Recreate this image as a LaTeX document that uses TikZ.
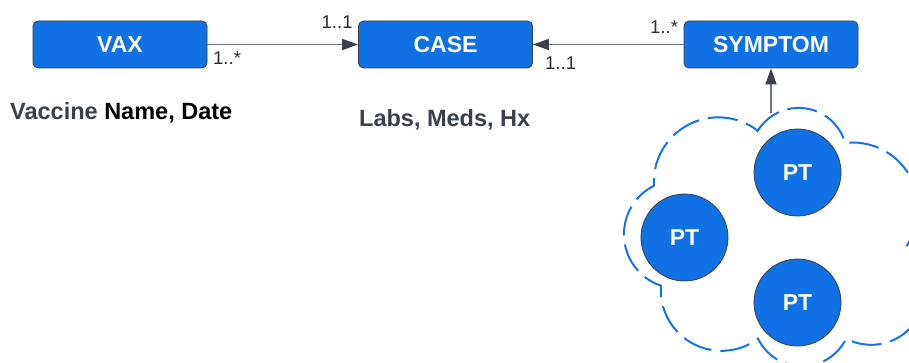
\documentclass[tikz,border=0pt]{standalone}
\usepackage{fontspec}
\setmainfont{Liberation Sans}
\usetikzlibrary{arrows.meta}
\definecolor{boxblue}{HTML}{1071E5}
\definecolor{edgegray}{HTML}{3A414A}
\definecolor{linegray}{HTML}{70767E}
\definecolor{multgray}{HTML}{282C33}
\definecolor{cloudblue}{HTML}{1473E6}

\begin{document}
\begin{tikzpicture}[x=1pt,y=1pt,
  my box/.style={
    draw=edgegray, line width=0.8pt, fill=boxblue, rounded corners=5pt,
    minimum width=174pt, minimum height=47pt, inner sep=0pt,
    text=white, font=\fontsize{23}{27}\selectfont\bfseries,
  },
  my pt/.style={
    circle, draw=edgegray, line width=0.8pt, fill=boxblue,
    minimum size=87pt, inner sep=0pt,
    text=white, font=\fontsize{23}{27}\selectfont\bfseries,
  },
  my arrow/.style={
    draw=linegray, line width=1.6pt,
    -{Triangle[length=16pt,width=11pt,color=edgegray]},
  },
  my mult/.style={anchor=west, inner sep=0pt, text=multgray, font=\fontsize{18.5}{22}\selectfont},
  my note/.style={anchor=base west, inner sep=0pt, text=edgegray, font=\fontsize{23.5}{27}\selectfont\bfseries},
  my cloud/.style={draw=cloudblue, line width=2pt, dash pattern=on 30pt off 9pt},
  ]
  \useasboundingbox (0,0) rectangle (909,362);
  \clip (0,0) rectangle (909,362);

  % entities
  \node[my box] (vax) at (120,317.5) {VAX};
  \node[my box] (case) at (445.5,317.5) {CASE};
  \node[my box] (symptom) at (771,317.5) {SYMPTOM};

  \draw[my arrow] (vax) -- (case);
  \draw[my arrow] (symptom) -- (case);
  \node[my mult] (vaxmany) at (213,303.7) {1..*};
  \node[my mult] (caseone) at (321.5,340.3) {1..1};
  \node[my mult] (symptommany) at (650,335.3) {1..*};
  \node[my mult] (caseonetoo) at (545,298.7) {1..1};

  \node[my note] (vaxnote) at (10,242) {Vaccine \textcolor{black}{Name, Date}};
  \node[my note] (casenote) at (359,235.5) {Labs, Meds, Hx};

  % patient cloud
  \draw[my cloud] (757,230)
    arc[start angle=150, end angle=15.8, radius=48.2pt]
    arc[start angle=96.5, end angle=-37, radius=65.8pt]
    arc[start angle=51.3, end angle=-117.4, radius=54.4pt]
    arc[start angle=-26, end angle=-154, radius=49pt]
    arc[start angle=-53.2, end angle=-184.1, radius=60.8pt]
    arc[start angle=251.5, end angle=116.5, radius=54.2pt]
    arc[start angle=183.4, end angle=52.4, radius=64.6pt] -- cycle;
  \node[my pt] (pta) at (797.5,189.5) {PT};
  \node[my pt] (ptb) at (684.5,124.5) {PT};
  \node[my pt] (ptc) at (797.5,59.5) {PT};

  \coordinate (cloudtop) at (771,249);
  \draw[my arrow] (cloudtop) -- (symptom);
\end{tikzpicture}
\end{document}
